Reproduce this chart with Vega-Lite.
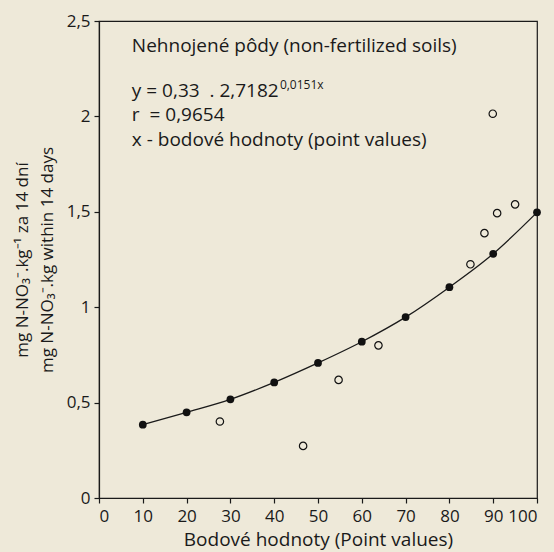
{
  "$schema": "https://vega.github.io/schema/vega-lite/v6.json",
  "width": 438,
  "height": 477,
  "autosize": "none",
  "padding": {"left": 99, "top": 21, "right": 17, "bottom": 54},
  "background": "#eee9d9",
  "config": {
    "font": "Open Sans",
    "view": {"stroke": "#1a1a1a", "strokeWidth": 1.2},
    "axis": {
      "labelFont": "Open Sans", "titleFont": "Open Sans", "labelFontSize": 17, "titleFontSize": 17,
      "labelColor": "#1a1a1a", "titleColor": "#1a1a1a", "domainColor": "#1a1a1a", "tickColor": "#1a1a1a",
      "titleFontWeight": "normal", "grid": false, "tickSize": 5, "domainWidth": 1.2, "tickWidth": 1.2
    }
  },
  "datasets": {
    "pts": [
      {"x": 10, "y": 0.384, "kind": "fit"},
      {"x": 20, "y": 0.449, "kind": "fit"},
      {"x": 30, "y": 0.517, "kind": "fit"},
      {"x": 40, "y": 0.606, "kind": "fit"},
      {"x": 50, "y": 0.708, "kind": "fit"},
      {"x": 60, "y": 0.819, "kind": "fit"},
      {"x": 70, "y": 0.948, "kind": "fit"},
      {"x": 80, "y": 1.105, "kind": "fit"},
      {"x": 90, "y": 1.28, "kind": "fit"},
      {"x": 100, "y": 1.497, "kind": "fit"},
      {"x": 27.6, "y": 0.401, "kind": "obs"},
      {"x": 46.6, "y": 0.273, "kind": "obs"},
      {"x": 54.7, "y": 0.619, "kind": "obs"},
      {"x": 63.8, "y": 0.8, "kind": "obs"},
      {"x": 84.8, "y": 1.225, "kind": "obs"},
      {"x": 88.0, "y": 1.388, "kind": "obs"},
      {"x": 89.9, "y": 2.014, "kind": "obs"},
      {"x": 90.9, "y": 1.493, "kind": "obs"},
      {"x": 95.0, "y": 1.539, "kind": "obs"}
    ],
    "notes": [
      {"tx": 7.5, "ty": 2.37, "label": "Nehnojené pôdy (non-fertilized soils)", "role": "main"},
      {"tx": 7.5, "ty": 2.135, "label": "y = 0,33\u00a0 . 2,7182", "role": "main"},
      {"tx": 41.3, "ty": 2.165, "label": "0,0151x", "role": "sup"},
      {"tx": 7.5, "ty": 2.005, "label": "r\u00a0 = 0,9654", "role": "main"},
      {"tx": 7.5, "ty": 1.876, "label": "x - bodové hodnoty (point values)", "role": "main"}
    ]
  },
  "data": {"name": "pts"},
  "encoding": {
    "x": {"field": "x", "type": "quantitative", "scale": {"domain": [0, 100], "nice": false},
      "axis": {"values": [0,10,20,30,40,50,60,70,80,90,100], "title": "Bodové hodnoty (Point values)", "titleFontSize": 19, "labelPadding": 5, "titlePadding": 6}},
    "y": {"field": "y", "type": "quantitative", "scale": {"domain": [0, 2.5], "nice": false},
      "axis": {"values": [0, 0.5, 1, 1.5, 2, 2.5], "format": ",.1~f", "labelExpr": "replace(datum.label, '.', ',')",
        "title": ["mg N-NO₃⁻.kg⁻¹ za 14 dní", "mg N-NO₃⁻.kg within 14 days"], "titleFontSize": 17, "titleLineHeight": 25, "titlePadding": 10, "labelPadding": 4}}
  },
  "layer": [
    {"transform": [{"filter": "datum.kind === 'fit'"}], "mark": {"type": "line", "interpolate": "monotone", "color": "#1a1a1a", "strokeWidth": 1.3}},
    {"transform": [{"filter": "datum.kind === 'fit'"}], "mark": {"type": "point", "shape": "circle", "filled": true, "color": "#111", "size": 60, "opacity": 1}},
    {"transform": [{"filter": "datum.kind === 'obs'"}], "mark": {"type": "point", "shape": "circle", "filled": false, "color": "#111", "size": 55, "strokeWidth": 1.2, "opacity": 1}},
    {"data": {"name": "notes"}, "transform": [{"filter": "datum.role === 'main'"}],
      "mark": {"type": "text", "align": "left", "baseline": "middle", "fontSize": 19, "color": "#1a1a1a"},
      "encoding": {"x": {"field": "tx", "type": "quantitative"}, "y": {"field": "ty", "type": "quantitative"}, "text": {"field": "label"}}},
    {"data": {"name": "notes"}, "transform": [{"filter": "datum.role === 'sup'"}],
      "mark": {"type": "text", "align": "left", "baseline": "middle", "fontSize": 12, "color": "#1a1a1a"},
      "encoding": {"x": {"field": "tx", "type": "quantitative"}, "y": {"field": "ty", "type": "quantitative"}, "text": {"field": "label"}}}
  ]
}
